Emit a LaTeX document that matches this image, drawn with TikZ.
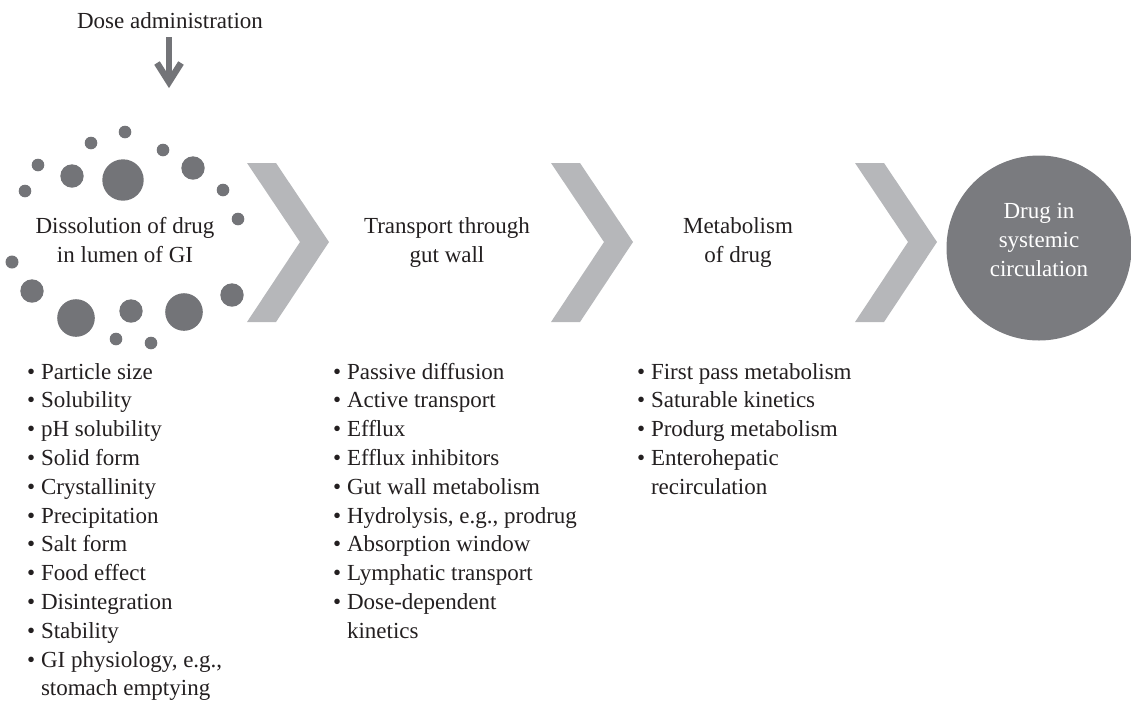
\documentclass[tikz,border=0pt]{standalone}
\usepackage{fontspec}
\setmainfont{Liberation Serif}
\definecolor{dotgray}{HTML}{737478}
\definecolor{chevgray}{HTML}{B6B7BA}
\definecolor{discgray}{HTML}{7A7B7F}
\definecolor{inkblack}{HTML}{231F20}
\begin{document}
\begin{tikzpicture}[x=1pt,y=-1pt,
  txt/.style={inner sep=0pt, anchor=base, text=inkblack, font=\fontsize{23}{29}\selectfont},
  itemtxt/.style={txt, anchor=base west},
  whitetxt/.style={txt, text=white},
  particle/.style={fill=dotgray, draw=none},
  chevron/.style={fill=chevgray, draw=none},
  arrowline/.style={draw=dotgray, line width=6.5pt, line cap=butt, line join=miter}]
\useasboundingbox (0,0) rectangle (1131,702);

% dose input
\node[txt] (dose) at (170,28) {Dose administration};
\coordinate (shafttop) at (169,37);
\coordinate (tipvertex) at (169,82);
\coordinate (barbL) at (157,63);
\coordinate (barbR) at (181,63);
\draw[arrowline] (shafttop) -- ([yshift=2pt]tipvertex);
\draw[arrowline] (barbL) -- (tipvertex) -- (barbR);

% drug particles in the lumen
\foreach \px/\py/\pr in {125/132/6.3, 91/143/6.3, 163/150/6.3, 38/165/6.3, 25/191/6.3,
    223/190/6.3, 238/219/6.3, 12/262/6.5, 116/339/6.3, 151/343/6.3,
    72/176/11.7, 193/168/11.7, 32/291/11.7, 232/295/11.7, 131/311/11.7,
    123/180/20.7, 76/318/18.8, 184/312/18.8}
  \fill[particle] (\px,\py) circle[radius=\pr];

% process chevrons
\foreach \dx [count=\k] in {0,304,608}
  \fill[chevron, shift={(\dx,0)}] (247,163) -- (276,163) -- (329,242) -- (276,322)
    -- (247,322) -- (300,242) -- cycle;

% final compartment
\node[circle, fill=discgray, minimum size=185pt, inner sep=0pt] (sys) at (1039,248) {};
\node[whitetxt] (sys1) at (1039,218) {Drug in};
\node[whitetxt] (sys2) at (1039,247) {systemic};
\node[whitetxt] (sys3) at (1039,276) {circulation};

% stage titles
\node[txt] (diss1) at (125,233) {Dissolution of drug};
\node[txt] (diss2) at (125,262) {in lumen of GI};
\node[txt] (trans1) at (447,233) {Transport through};
\node[txt] (trans2) at (447,262) {gut wall};
\node[txt] (meta1) at (738,233) {Metabolism};
\node[txt] (meta2) at (738,262) {of drug};

% factor lists
\foreach \t [count=\i from 0] in {Particle size, Solubility, pH solubility, Solid form,
    Crystallinity, Precipitation, Salt form, Food effect, Disintegration, Stability,
    {GI physiology, e.g.,}}
  \node[itemtxt] (dissitem\i) at (27,{379+28.8*\i}) {\textbullet\ \t};
\node[itemtxt] (dissitem11) at (27,{379+28.8*11}) {\phantom{\textbullet\ }stomach emptying};

\foreach \t [count=\i from 0] in {Passive diffusion, Active transport, Efflux,
    Efflux inhibitors, Gut wall metabolism, {Hydrolysis, e.g., prodrug},
    Absorption window, Lymphatic transport, Dose-dependent}
  \node[itemtxt] (transitem\i) at (333,{379+28.8*\i}) {\textbullet\ \t};
\node[itemtxt] (transitem9) at (333,{379+28.8*9}) {\phantom{\textbullet\ }kinetics};

\foreach \t [count=\i from 0] in {First pass metabolism, Saturable kinetics,
    Produrg metabolism, Enterohepatic}
  \node[itemtxt] (metaitem\i) at (637,{379+28.8*\i}) {\textbullet\ \t};
\node[itemtxt] (metaitem4) at (637,{379+28.8*4}) {\phantom{\textbullet\ }recirculation};
\end{tikzpicture}
\end{document}
